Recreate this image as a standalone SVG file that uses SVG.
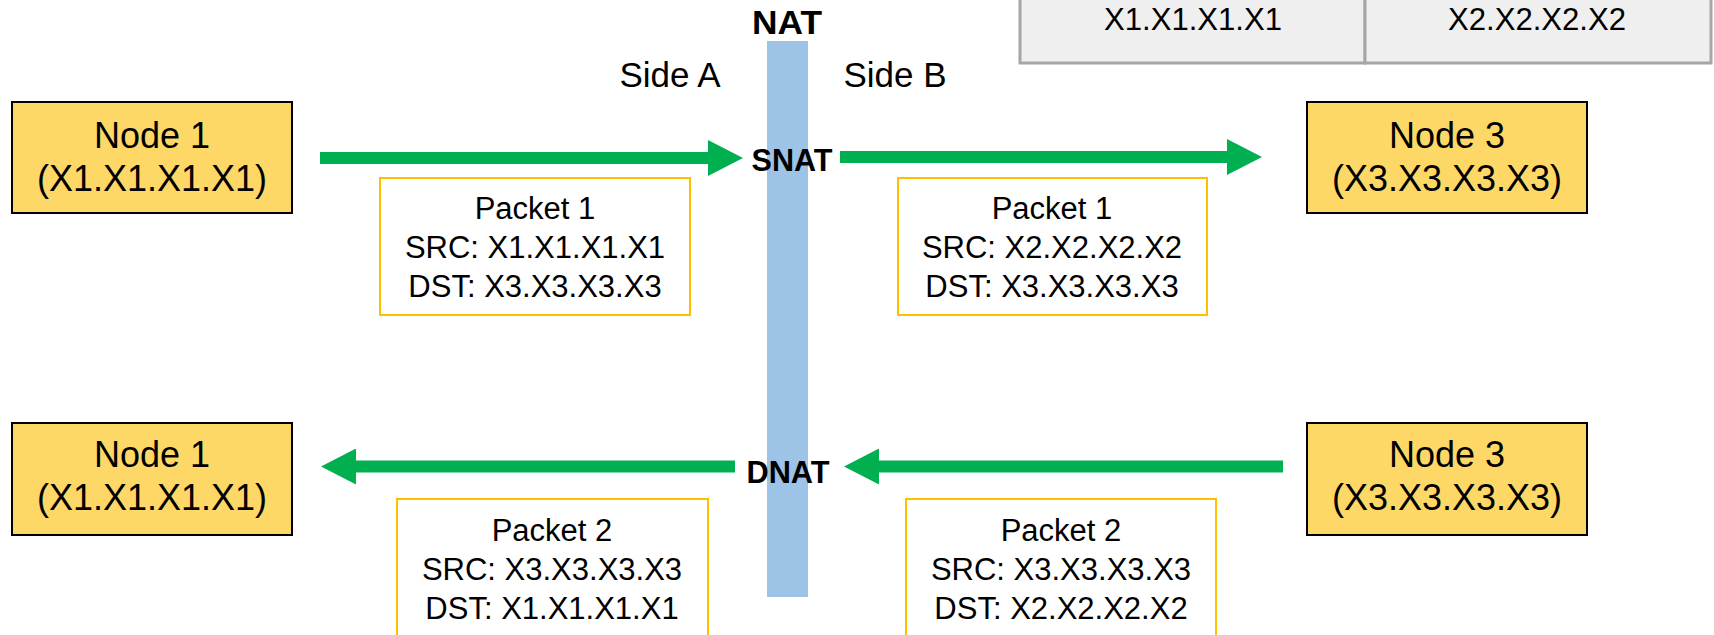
<svg xmlns="http://www.w3.org/2000/svg" width="1714" height="635" viewBox="0 0 1714 635">
  <style>
    .node rect { fill: #FDD866; stroke: #000000; stroke-width: 2; }
    .node text { font-family: "Liberation Sans", Arial, sans-serif; font-size: 36px; fill: #000000; text-anchor: middle; }
    .packet rect { fill: #FFFFFF; stroke: #FFC000; stroke-width: 2; }
    .packet text { font-family: "Liberation Sans", Arial, sans-serif; font-size: 31px; fill: #000000; text-anchor: middle; }
    .side { font-family: "Liberation Sans", Arial, sans-serif; font-size: 35px; fill: #000000; text-anchor: middle; }
    .nat { font-family: "Liberation Sans", Arial, sans-serif; font-weight: bold; fill: #000000; text-anchor: middle; }
    .flow { stroke: #00B050; stroke-width: 12; fill: none; marker-end: url(#head); }
    .addr-cell { fill: #EFEFEF; stroke: #A6A6A6; stroke-width: 3; }
    .addr { font-family: "Liberation Sans", Arial, sans-serif; font-size: 31px; fill: #000000; text-anchor: middle; }
  </style>
  <defs>
    <marker id="head" markerUnits="userSpaceOnUse" markerWidth="35" markerHeight="36" viewBox="0 0 35 36" refX="0" refY="18" orient="auto">
      <path d="M0,0 L35,18 L0,36 Z" fill="#00B050"/>
    </marker>
  </defs>

  <rect width="1714" height="635" fill="#FFFFFF"/>

  <!-- address table -->
  <g id="address-table">
    <rect class="addr-cell" x="1020" y="-10" width="345" height="73"/>
    <rect class="addr-cell" x="1365" y="-10" width="346" height="73"/>
    <text class="addr" x="1193" y="30" textLength="178" lengthAdjust="spacingAndGlyphs">X1.X1.X1.X1</text>
    <text class="addr" x="1537" y="30" textLength="178" lengthAdjust="spacingAndGlyphs">X2.X2.X2.X2</text>
  </g>

  <!-- NAT boundary -->
  <g id="nat">
    <rect x="767" y="41" width="41" height="556" fill="#9DC3E6"/>
    <text class="nat" x="787" y="34" font-size="34" textLength="70" lengthAdjust="spacingAndGlyphs">NAT</text>
  </g>
  <text class="side" x="670" y="87">Side A</text>
  <text class="side" x="895" y="87">Side B</text>

  <!-- connectors -->
  <g id="connectors">
    <line class="flow" x1="320" y1="158" x2="708" y2="158"/>
    <line class="flow" x1="840" y1="157" x2="1227" y2="157"/>
    <line class="flow" x1="735" y1="466.5" x2="356" y2="466.5"/>
    <line class="flow" x1="1283" y1="466.5" x2="879" y2="466.5"/>
  </g>

  <text class="nat" x="792" y="171" font-size="32" textLength="81" lengthAdjust="spacingAndGlyphs">SNAT</text>
  <text class="nat" x="788" y="483" font-size="32" textLength="83" lengthAdjust="spacingAndGlyphs">DNAT</text>

  <!-- nodes -->
  <g id="node1-out" class="node">
    <rect x="12" y="102" width="280" height="111"/>
    <text x="152" y="148">Node 1</text>
    <text x="152" y="191">(X1.X1.X1.X1)</text>
  </g>
  <g id="node3-in" class="node">
    <rect x="1307" y="102" width="280" height="111"/>
    <text x="1447" y="148">Node 3</text>
    <text x="1447" y="191">(X3.X3.X3.X3)</text>
  </g>
  <g id="node1-back" class="node">
    <rect x="12" y="423" width="280" height="112"/>
    <text x="152" y="467">Node 1</text>
    <text x="152" y="510">(X1.X1.X1.X1)</text>
  </g>
  <g id="node3-back" class="node">
    <rect x="1307" y="423" width="280" height="112"/>
    <text x="1447" y="467">Node 3</text>
    <text x="1447" y="510">(X3.X3.X3.X3)</text>
  </g>

  <!-- packet headers -->
  <g id="packet1-a" class="packet">
    <rect x="380" y="178" width="310" height="137"/>
    <text x="535" y="219">Packet 1</text>
    <text x="535" y="258">SRC: X1.X1.X1.X1</text>
    <text x="535" y="297">DST: X3.X3.X3.X3</text>
  </g>
  <g id="packet1-b" class="packet">
    <rect x="898" y="178" width="309" height="137"/>
    <text x="1052" y="219">Packet 1</text>
    <text x="1052" y="258">SRC: X2.X2.X2.X2</text>
    <text x="1052" y="297">DST: X3.X3.X3.X3</text>
  </g>
  <g id="packet2-a" class="packet">
    <rect x="397" y="499" width="311" height="160"/>
    <text x="552" y="541">Packet 2</text>
    <text x="552" y="580">SRC: X3.X3.X3.X3</text>
    <text x="552" y="619">DST: X1.X1.X1.X1</text>
  </g>
  <g id="packet2-b" class="packet">
    <rect x="906" y="499" width="310" height="160"/>
    <text x="1061" y="541">Packet 2</text>
    <text x="1061" y="580">SRC: X3.X3.X3.X3</text>
    <text x="1061" y="619">DST: X2.X2.X2.X2</text>
  </g>
</svg>
